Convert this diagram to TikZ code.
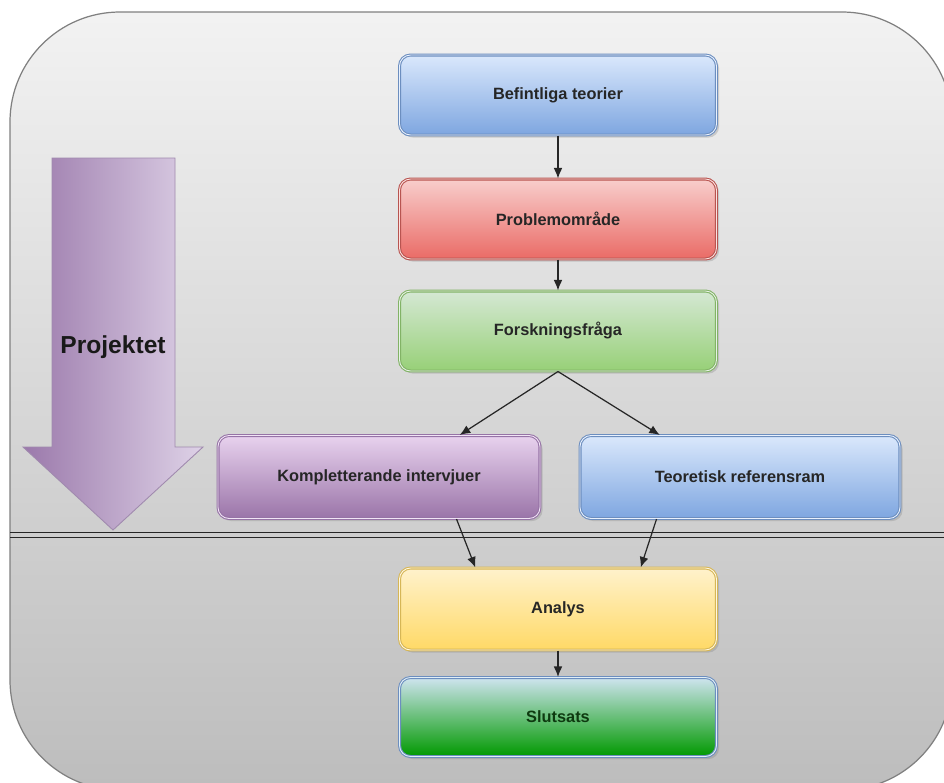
\documentclass[tikz,border=0pt]{standalone}
\usepackage{fontspec}
\usepackage{xcolor}
\setmainfont{Liberation Sans}
\usetikzlibrary{calc}
\usetikzlibrary{shadows}
\usetikzlibrary{arrows.meta}

\definecolor{blueTop}{HTML}{DAE8FC}
\definecolor{blueBot}{HTML}{7EA6E0}
\definecolor{blueLine}{HTML}{6C8EBF}
\definecolor{redTop}{HTML}{F8CECC}
\definecolor{redBot}{HTML}{EA6B66}
\definecolor{redLine}{HTML}{B85450}
\definecolor{greenTop}{HTML}{D5E8D4}
\definecolor{greenBot}{HTML}{97D077}
\definecolor{greenLine}{HTML}{82B366}
\definecolor{purpleTop}{HTML}{E8D2EE}
\definecolor{purpleBot}{HTML}{9A74A8}
\definecolor{purpleLine}{HTML}{9673A6}
\definecolor{yellowTop}{HTML}{FFF2CC}
\definecolor{yellowBot}{HTML}{FFD966}
\definecolor{yellowLine}{HTML}{D6B656}
\definecolor{darkTop}{HTML}{CFE4F0}
\definecolor{darkBot}{HTML}{009900}
\definecolor{darkText}{HTML}{0E3A10}
\definecolor{arrowLeft}{HTML}{9B79AB}
\definecolor{arrowRight}{HTML}{DED2E7}
\definecolor{arrowLine}{HTML}{A08AAE}

\tikzset{
    box/.style={rounded corners=0.22cm, minimum width=6.34cm, minimum height=1.6cm,
        line width=0.6pt, double distance=0.5pt, text=black!85,
        font=\bfseries\fontsize{9.3}{11}\selectfont,
        drop shadow={opacity=0.3, shadow xshift=1.5pt, shadow yshift=-1.5pt}},
    colbox/.style n args={3}{box, top color=#1, bottom color=#2, draw=#3, double=#1!60!white},
    flow/.style={-{Latex[length=6pt, width=5pt]}, line width=0.7pt, black!85}
}

\begin{document}
\begin{tikzpicture}[x=0.02cm, y=-0.02cm]
                \clip (0, 0) rectangle (944, 782);
                \fill[white] (0, 0) rectangle (944, 782);
                % background panel
                \draw[rounded corners=2.2cm, top color=black!5, bottom color=black!26, draw=black!50, line width=0.7pt] (10, 12) rectangle (952, 790);
                \draw[black!85, line width=0.7pt] (10, 532.5) -- (944, 532.5);
                \draw[black!85, line width=0.7pt] (10, 537.5) -- (944, 537.5);

                % big arrow
                \shade[left color=arrowLeft, right color=arrowRight, draw=arrowLine, line width=0.5pt] (52, 158) -- (175, 158) -- (175, 447) -- (203, 447) -- (113, 530) -- (23, 447) -- (52, 447) -- cycle;
                \node (projektet) at (113, 347) [font=\bfseries\fontsize{14}{16}\selectfont, text=black!90] {Projektet};

                % boxes
                \node (befintliga) at (558, 95) [colbox={blueTop}{blueBot}{blueLine}] {Befintliga teorier};
                \node (problem) at (558, 219) [colbox={redTop}{redBot}{redLine}] {Problemområde};
                \node (forskning) at (558, 331) [colbox={greenTop}{greenBot}{greenLine}] {Forskningsfråga};
                \node (intervjuer) at (379, 477) [colbox={purpleTop}{purpleBot}{purpleLine}, minimum width=6.44cm, minimum height=1.66cm] {Kompletterande intervjuer};
                \node (referensram) at (740, 477) [colbox={blueTop}{blueBot}{blueLine}, minimum width=6.4cm, minimum height=1.66cm] {Teoretisk referensram};
                \node (analys) at (558, 609) [colbox={yellowTop}{yellowBot}{yellowLine}, minimum height=1.64cm] {Analys};
                \node (slutsats) at (558, 717) [colbox={darkTop}{darkBot}{blueLine}, minimum height=1.58cm, text=darkText] {Slutsats};

                % connectors
                \draw[flow] (befintliga) -- (problem);
                \draw[flow] (problem) -- (forskning);
                \draw[flow] (forskning.south) -- ($(intervjuer.north west)!0.75!(intervjuer.north east)$);
                \draw[flow] (forskning.south) -- ($(referensram.north west)!0.25!(referensram.north east)$);
                \draw[flow] ($(intervjuer.south west)!0.74!(intervjuer.south east)$) -- ($(analys.north west)!0.24!(analys.north east)$);
                \draw[flow] ($(referensram.south west)!0.24!(referensram.south east)$) -- ($(analys.north west)!0.76!(analys.north east)$);
                \draw[flow] (analys) -- (slutsats);
            \end{tikzpicture}
\end{document}
